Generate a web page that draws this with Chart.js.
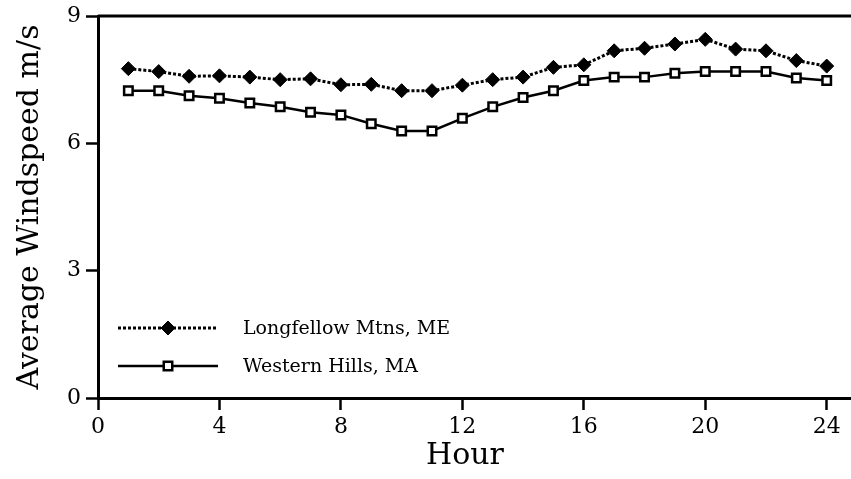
<!DOCTYPE html>
<html lang="en">
<head>
<meta charset="UTF-8">
<title>Average Windspeed</title>
<script src="https://cdn.jsdelivr.net/npm/chart.js"></script>
<style>
  html, body{margin: 0; padding: 0; background: #fff; overflow: hidden;}
  #wrap{width: 851px; height: 479px;}
</style>
</head>
<body>
<div id="wrap"><canvas id="myChart"></canvas></div>
<script>
// hourly averages, m/s
const hours = [1, 2, 3, 4, 5, 6, 7, 8, 9, 10, 11, 12, 13, 14, 15, 16, 17, 18, 19, 20, 21, 22, 23, 24];
const longfellow = [7.76, 7.69, 7.58, 7.59, 7.56, 7.50, 7.52, 7.38, 7.39, 7.24, 7.24, 7.37,
                    7.50, 7.56, 7.79, 7.85, 8.18, 8.24, 8.34, 8.45, 8.22, 8.18, 7.95, 7.82];
const western = [7.24, 7.24, 7.12, 7.06, 6.95, 6.86, 6.73, 6.67, 6.46, 6.29, 6.29, 6.59,
                 6.86, 7.08, 7.24, 7.48, 7.56, 7.56, 7.65, 7.69, 7.69, 7.69, 7.54, 7.48];
const seriesNames = ['Longfellow Mtns, ME', 'Western Hills, MA'];
const xTicks = [0, 4, 8, 12, 16, 20, 24];
const yTicks = [0, 3, 6, 9];

const FONT = 'DejaVu Serif';

// top frame line
const frameTop = {
  id: 'frameTop',
  afterDraw(chart){
    const {ctx, chartArea} = chart;
    ctx.save();
    ctx.strokeStyle = '#000';
    ctx.lineWidth = 3;
    ctx.beginPath();
    ctx.moveTo(chartArea.left, chartArea.top);
    ctx.lineTo(chartArea.right, chartArea.top);
    ctx.stroke();
    ctx.restore();
  }
};

// legend inside the plot, line + marker + label
const innerLegend = {
  id: 'innerLegend',
  afterDraw(chart){
    const ctx = chart.ctx;
    const rows = [328, 366];
    ctx.save();
    chart.data.datasets.forEach((ds, i) => {
      const y = rows[i];
      ctx.strokeStyle = '#000';
      ctx.lineWidth = ds.borderWidth;
      ctx.setLineDash(ds.borderDash || []);
      ctx.beginPath();
      ctx.moveTo(118, y);
      ctx.lineTo(218, y);
      ctx.stroke();
      ctx.setLineDash([]);
      ctx.fillStyle = ds.pointBackgroundColor;
      ctx.lineWidth = ds.pointBorderWidth;
      Chart.helpers.drawPoint(ctx, {
        pointStyle: ds.pointStyle,
        radius: ds.pointRadius,
        borderWidth: ds.pointBorderWidth,
        rotation: 0
      }, 168, y);
      ctx.fillStyle = '#000';
      ctx.font = '19px "' + FONT + '"';
      ctx.textBaseline = 'middle';
      ctx.fillText(ds.label, 243, y + 1);
    });
    ctx.restore();
  }
};

new Chart(document.getElementById('myChart'), {
  type: 'line',
  data: {
    datasets: [{
      label: seriesNames[0],
      data: hours.map((h, i) => ({x: h, y: longfellow[i]})),
      borderColor: '#000',
      borderWidth: 3,
      borderDash: [3, 2],
      pointStyle: 'rectRot',
      pointRadius: 7,
      pointBackgroundColor: '#000',
      pointBorderColor: '#000',
      pointBorderWidth: 1
    }, {
      label: seriesNames[1],
      data: hours.map((h, i) => ({x: h, y: western[i]})),
      borderColor: '#000',
      borderWidth: 2.5,
      pointStyle: 'rect',
      pointRadius: 6,
      pointBackgroundColor: '#fff',
      pointBorderColor: '#000',
      pointBorderWidth: 2.5
    }]
  },
  options: {
    responsive: true,
    maintainAspectRatio: false,
    animation: false,
    layout: {padding: {top: 16, right: 0, left: 0, bottom: 0}, autoPadding: false},
    plugins: {legend: {display: false}, tooltip: {enabled: false}},
    scales: {
      x: {
        type: 'linear',
        min: 0,
        max: 24.8,
        afterBuildTicks: s => { s.ticks = xTicks.map(v => ({value: v})); },
        afterFit: s => { s.height = 81; s.paddingLeft = 0; s.paddingRight = 0; },
        ticks: {includeBounds: false, color: '#000', padding: 4, font: {family: FONT, size: 22}},
        grid: {drawOnChartArea: false, color: '#000', tickLength: 12, tickWidth: 2.5},
        border: {color: '#000', width: 3},
        // trailing spaces pull the title back over the 0-24 span
        title: {display: true, text: 'Hour  ', color: '#000', padding: {top: 0, bottom: 5}, font: {family: FONT, size: 30}}
      },
      y: {
        min: 0,
        max: 9,
        afterBuildTicks: s => { s.ticks = yTicks.map(v => ({value: v})); },
        afterFit: s => { s.width = 98; s.paddingTop = 0; s.paddingBottom = 0; },
        ticks: {color: '#000', padding: 5, font: {family: FONT, size: 22}},
        grid: {drawOnChartArea: false, color: '#000', tickLength: 12, tickWidth: 2.5},
        border: {color: '#000', width: 3},
        title: {display: true, text: 'Average Windspeed m/s', color: '#000', padding: {top: 12, bottom: 0}, font: {family: FONT, size: 30}}
      }
    }
  },
  plugins: [frameTop, innerLegend]
});
</script>
</body>
</html>
